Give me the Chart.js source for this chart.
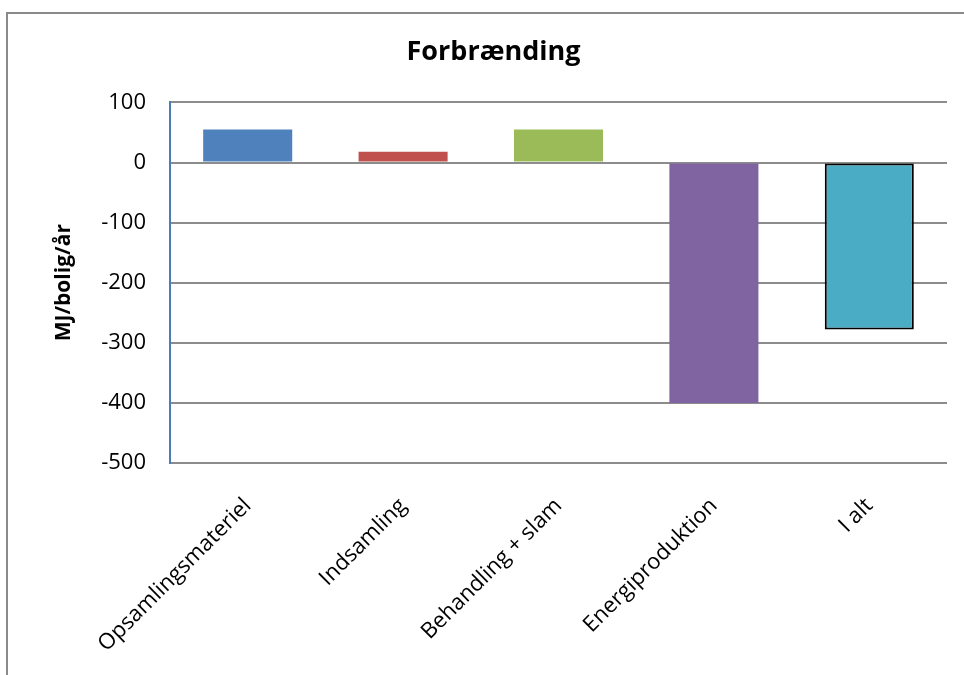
<!DOCTYPE html>
<html>
<head>
<meta charset="utf-8">
<script src="https://cdn.jsdelivr.net/npm/chart.js@4/dist/chart.umd.min.js"></script>
<style>
  html, body { margin: 0; padding: 0; background: #fff; }
  #wrap { position: relative; width: 964px; height: 675px; overflow: hidden; }
  #frame { position: absolute; left: 6px; top: 12px; width: 1000px; height: 700px; border: 2px solid #8a8a8a; box-sizing: border-box; }
  canvas { position: absolute; left: 0; top: 0; }
</style>
</head>
<body>
<div id="wrap">
  <div id="frame"></div>
  <canvas id="c" width="964" height="675"></canvas>
</div>
<script>
const categories = ['Opsamlingsmateriel', 'Indsamling', 'Behandling + slam', 'Energiproduktion', 'I alt'];
const values = [55, 18, 55, -400, -278];
const barColors = ['#4F81BD', '#C0504D', '#9BBB59', '#8064A2', '#4BACC6'];
const yTicks = [100, 0, -100, -200, -300, -400, -500];
const chartTitle = 'Forbrænding';
const yTitle = 'MJ/bolig/år';

const FONT = "'Open Sans', Lato, sans-serif";

new Chart(document.getElementById('c'), {
  type: 'bar',
  data: {
    labels: categories,
    datasets: [{
      data: values,
      backgroundColor: barColors,
      borderColor: ['rgba(0,0,0,0)', 'rgba(0,0,0,0)', 'rgba(0,0,0,0)', 'rgba(0,0,0,0)', '#000000'],
      borderWidth: [0, 0, 0, 0, 2],
      borderSkipped: false,
      barPercentage: 0.573,
      categoryPercentage: 1.0
    }]
  },
  options: {
    responsive: false,
    animation: false,
    layout: { padding: { left: 40, right: 17, top: 0, bottom: 0 } },
    plugins: {
      legend: { display: false },
      tooltip: { enabled: false },
      title: {
        display: true,
        text: chartTitle,
        color: '#000',
        font: { family: FONT, size: 27, weight: 'bold', lineHeight: 1.2 },
        padding: { top: 36, bottom: 34 }
      }
    },
    scales: {
      x: {
        grid: { display: false },
        border: { display: false },
        ticks: {
          color: '#000',
          font: { family: FONT, size: 22 },
          minRotation: 45,
          maxRotation: 45,
          padding: 22,
          autoSkip: false
        },
        afterFit: s => { s.height = 212; }
      },
      y: {
        min: -500,
        max: 100,
        afterBuildTicks: s => { s.ticks = yTicks.map(v => ({ value: v })); },
        grid: { color: '#8c8c8c', lineWidth: 2, drawTicks: false },
        border: { display: true, color: '#4A7EBB', width: 2 },
        ticks: {
          color: '#000',
          font: { family: FONT, size: 22 },
          padding: 24
        },
        title: {
          display: true,
          text: yTitle,
          color: '#000',
          font: { family: FONT, size: 21, weight: 'bold', lineHeight: 1.2 },
          padding: { top: 11, bottom: 0 }
        },
        afterFit: s => { s.width = 130; }
      }
    }
  }
});
</script>
</body>
</html>
